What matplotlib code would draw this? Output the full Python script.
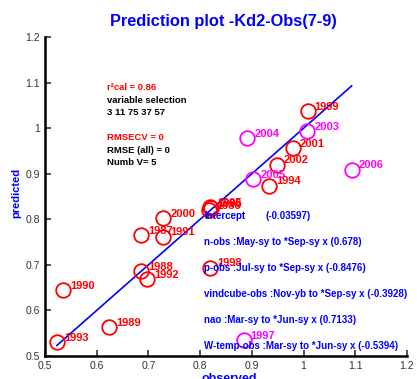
import matplotlib
matplotlib.use('Agg')
import matplotlib.pyplot as plt

plt.rcParams['font.family'] = ['Liberation Sans', 'DejaVu Sans']

# observed vs predicted, per year
years = ['1986', '1987', '1988', '1989', '1990', '1991', '1992', '1993', '1994', '1995',
         '1996', '1998', '1999', '2000', '2001', '2002']
observed = [0.818, 0.686, 0.686, 0.624, 0.535, 0.728, 0.697, 0.523, 0.934, 0.819,
            0.820, 0.819, 1.008, 0.729, 0.979, 0.948]
predicted = [0.821, 0.766, 0.687, 0.563, 0.645, 0.762, 0.669, 0.531, 0.874, 0.827,
             0.824, 0.694, 1.038, 0.803, 0.956, 0.920]

# validation years (magenta)
val_years = ['1997', '2003', '2004', '2005', '2006']
val_observed = [0.884, 1.007, 0.891, 0.903, 1.093]
val_predicted = [0.535, 0.993, 0.978, 0.889, 0.909]

stats_lines = [('r\u00b2cal = 0.86', 'red'), ('variable selection', 'black'),
               ('3 11 75 37 57', 'black'), ('', 'black'), ('RMSECV = 0', 'red'),
               ('RMSE (all) = 0', 'black'), ('Numb V= 5', 'black')]
intercept = '(-0.03597)'
coef_lines = ['n-obs :May-sy to *Sep-sy x (0.678)',
              'p-obs :Jul-sy to *Sep-sy x (-0.8476)',
              'vindcube-obs :Nov-yb to *Sep-sy x (-0.3928)',
              'nao :Mar-sy to *Jun-sy x (0.7133)',
              'W-temp-obs :Mar-sy to *Jun-sy x (-0.5394)']

fig = plt.figure(figsize=(4.17, 3.79), dpi=100)
ax = fig.add_axes([0.108, 0.061, 0.868, 0.841])

all_obs = observed + val_observed
lo, hi = min(all_obs), max(all_obs)
ax.plot([lo, hi], [lo, hi], color='#0000FF', lw=1.2, zorder=1)

ax.plot(observed, predicted, 'o', ms=10.5, mfc='none', mec='#FF0000', mew=1.3)
for yr, x, y in zip(years, observed, predicted):
    ax.annotate(yr, (x, y), xytext=(5, 3), textcoords='offset points',
                color='#FF0000', fontsize=8, fontweight='bold', va='center')

ax.plot(val_observed, val_predicted, 'o', ms=10.5, mfc='none', mec='#FF00FF', mew=1.3)
for yr, x, y in zip(val_years, val_observed, val_predicted):
    ax.annotate(yr, (x, y), xytext=(5, 3), textcoords='offset points',
                color='#FF00FF', fontsize=8, fontweight='bold', va='center')

# stats block
for i, (s, c) in enumerate(stats_lines):
    ax.text(0.62, 1.089 - i * 0.0275, s, color=c, fontsize=6.8, fontweight='bold', va='center')

# model coefficients
ax.text(0.8075, 0.808, 'Intercept', color='#0000FF', fontsize=7, fontweight='bold', va='center')
ax.text(0.9255, 0.808, intercept, color='#0000FF', fontsize=7, fontweight='bold', va='center')
for i, s in enumerate(coef_lines):
    ax.text(0.8075, 0.751 - i * 0.0572, s, color='#0000FF', fontsize=7,
            fontweight='bold', va='center')

ax.set_xlim(0.5, 1.2)
ax.set_ylim(0.5, 1.2)
ax.set_xticks([0.5, 0.6, 0.7, 0.8, 0.9, 1.0, 1.1, 1.2])
ax.set_yticks([0.5, 0.6, 0.7, 0.8, 0.9, 1.0, 1.1, 1.2])
ax.set_xticklabels(['0.5', '0.6', '0.7', '0.8', '0.9', '1', '1.1', '1.2'])
ax.set_yticklabels(['0.5', '0.6', '0.7', '0.8', '0.9', '1', '1.1', '1.2'])
ax.tick_params(direction='in', length=4, width=1.2, labelsize=7.5, colors='#333333')
for side in ['top', 'right']:
    ax.spines[side].set_visible(False)
for side in ['left', 'bottom']:
    ax.spines[side].set_linewidth(1.8)
    ax.spines[side].set_clip_on(False)

fig.text(0.535, 0.942, 'Prediction plot -Kd2-Obs(7-9)', color='#0000FF', fontsize=11.8,
         fontweight='bold', ha='center', va='center')
fig.text(0.55, 0.0, 'observed', color='#0000FF', fontsize=9, fontweight='bold',
         ha='center', va='center')
fig.text(0.038, 0.492, 'predicted', color='#0000FF', fontsize=8, fontweight='bold',
         ha='center', va='center', rotation=90)

fig.savefig('out.png', dpi=100)
